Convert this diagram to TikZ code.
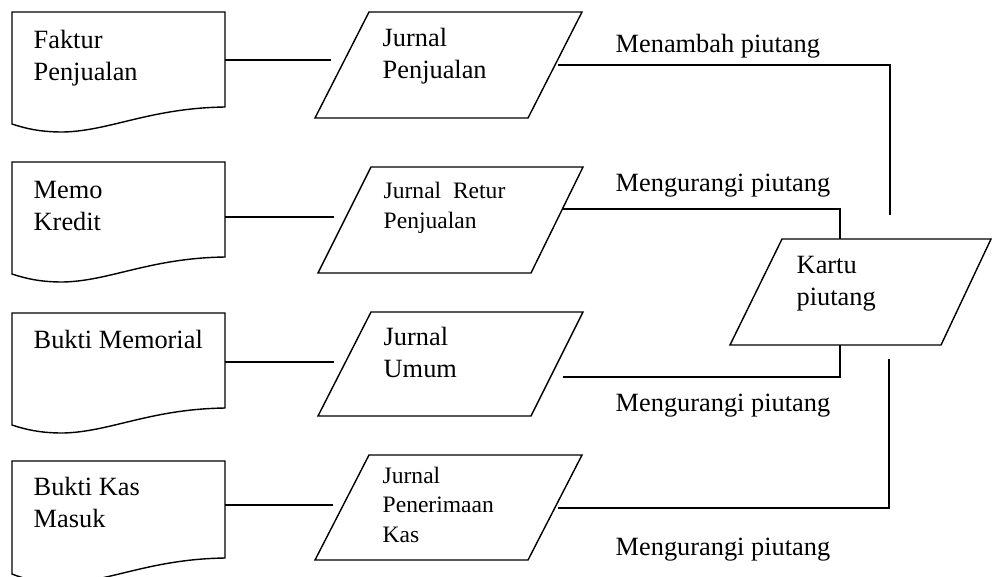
\documentclass[tikz,border=0pt]{standalone}
\usepackage{fontspec}
\setmainfont{Liberation Serif}
\begin{document}
\begin{tikzpicture}[scale=0.2, line width=0.8pt,
	txt/.style={font=\fontsize{15pt}{18.1pt}\selectfont, align=left, anchor=base west},
	smalltxt/.style={font=\fontsize{13.4pt}{16.6pt}\selectfont, align=left, anchor=base west}]
		\tikzstyle{every node}+=[inner sep=0pt]
		\useasboundingbox (0,0) rectangle (99.2,-57.6);
		% dokumen sumber
		\draw [black] (1.2,-1.2) -- (22.5,-1.2) -- (22.5,-10.7) .. controls (15,-10.8) and (11,-13.1) .. (6.3,-13.2) .. controls (4.5,-13.2) and (3,-13) .. (1.2,-12.4) -- cycle;
		\draw [black] (1.2,-16.2) -- (22.5,-16.2) -- (22.5,-25.7) .. controls (15,-25.8) and (11,-28.1) .. (6.3,-28.2) .. controls (4.5,-28.2) and (3,-28) .. (1.2,-27.4) -- cycle;
		\draw [black] (1.2,-31.3) -- (22.5,-31.3) -- (22.5,-40.8) .. controls (15,-40.9) and (11,-43.2) .. (6.3,-43.3) .. controls (4.5,-43.3) and (3,-43.1) .. (1.2,-42.5) -- cycle;
		\draw [black] (1.2,-46.1) -- (22.5,-46.1) -- (22.5,-55.8) .. controls (15,-55.9) and (11,-58.2) .. (6.3,-58.3) .. controls (4.5,-58.3) and (3,-58.1) .. (1.2,-57.4) -- cycle;
		\node [txt] (faktur) at (3.3,-8) {Faktur\\Penjualan};
		\node [txt] (memo) at (3.3,-23) {Memo\\Kredit};
		\node [txt] (memorial) at (3.3,-34.8) {Bukti Memorial};
		\node [txt] (kasmasuk) at (3.3,-52.7) {Bukti Kas\\Masuk};
		% jurnal
		\draw [black] (36.9,-1.2) -- (58.2,-1.2) -- (52.8,-11.8) -- (31.5,-11.8) -- cycle;
		\draw [black] (37.1,-16.7) -- (58.3,-16.7) -- (53.1,-27.3) -- (31.8,-27.3) -- cycle;
		\draw [black] (37.1,-31.2) -- (58.3,-31.2) -- (53.1,-41.6) -- (31.8,-41.6) -- cycle;
		\draw [black] (36.9,-45.5) -- (58.2,-45.5) -- (52.8,-56) -- (31.5,-56) -- cycle;
		\node [txt] (jpenj) at (38.2,-7.8) {Jurnal\\Penjualan};
		\node [smalltxt] (jretur) at (38.3,-22.8) {Jurnal\ \ Retur\\Penjualan};
		\node [txt] (jumum) at (38.3,-37.7) {Jurnal\\Umum};
		\node [smalltxt] (jkas) at (38.2,-54.2) {Jurnal\\Penerimaan\\Kas};
		% kartu piutang
		\draw [black] (78.2,-23.9) -- (99.1,-23.9) -- (94.1,-34.5) -- (73,-34.5) -- cycle;
		\node [txt] (kartu) at (79.6,-30.5) {Kartu\\piutang};
		% titik ujung garis
		\coordinate (faktur-e) at (22.5,-6);
		\coordinate (jpenj-w) at (33.1,-6);
		\coordinate (jpenj-e) at (55.8,-6.5);
		\coordinate (memo-e) at (22.5,-21.7);
		\coordinate (jretur-w) at (33.4,-21.7);
		\coordinate (jretur-e) at (56.3,-20.9);
		\coordinate (memorial-e) at (22.5,-36.2);
		\coordinate (jumum-w) at (33.4,-36.2);
		\coordinate (jumum-e) at (56.3,-37.7);
		\coordinate (kasmasuk-e) at (22.5,-50.5);
		\coordinate (jkas-w) at (33.3,-50.5);
		\coordinate (jkas-e) at (55.8,-50.8);
		\coordinate (kartu-n) at (84,-23.9);
		\coordinate (kartu-s) at (84,-34.5);
		\coordinate (tambah-end) at (89,-21.5);
		\coordinate (kurang-end) at (88.9,-35.9);
		% garis
		\draw [black] (faktur-e) -- (jpenj-w);
		\draw [black] (memo-e) -- (jretur-w);
		\draw [black] (memorial-e) -- (jumum-w);
		\draw [black] (kasmasuk-e) -- (jkas-w);
		\draw [black] (jpenj-e) -| (tambah-end);
		\draw [black] (jretur-e) -| (kartu-n);
		\draw [black] (jumum-e) -| (kartu-s);
		\draw [black] (jkas-e) -| (kurang-end);
		\node [txt] (tambah) at (61.5,-5.2) {Menambah piutang};
		\node [txt] (kurang2) at (61.5,-19.1) {Mengurangi piutang};
		\node [txt] (kurang3) at (61.5,-41.1) {Mengurangi piutang};
		\node [txt] (kurang4) at (61.5,-55.5) {Mengurangi piutang};
\end{tikzpicture}
\end{document}
